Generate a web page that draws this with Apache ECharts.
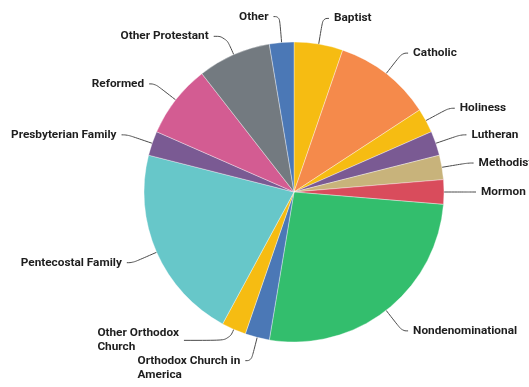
<!DOCTYPE html>
<html>
<head>
<meta charset="utf-8">
<script src="https://cdn.jsdelivr.net/npm/echarts@6/dist/echarts.min.js"></script>
<style>
  html, body { margin: 0; padding: 0; background: #fff; }
  #chart { width: 529px; height: 387px; }
</style>
</head>
<body>
<div id="chart"></div>
<script>
// Denominations, in clockwise order from 12 o'clock
const categories = [
  'Baptist', 'Catholic', 'Holiness', 'Lutheran', 'Methodist', 'Mormon',
  'Nondenominational', 'Orthodox Church in America', 'Other Orthodox Church',
  'Pentecostal Family', 'Presbyterian Family', 'Reformed', 'Other Protestant', 'Other'
];
const counts = [2, 4, 1, 1, 1, 1, 10, 1, 1, 8, 1, 3, 3, 1];

const sliceColors = {
  'Baptist': '#F6BC12',
  'Catholic': '#F58A4B',
  'Holiness': '#F6BC12',
  'Lutheran': '#7A5A93',
  'Methodist': '#C8B37B',
  'Mormon': '#D94C5C',
  'Nondenominational': '#33BE6D',
  'Orthodox Church in America': '#4B78B6',
  'Other Orthodox Church': '#F6BC12',
  'Pentecostal Family': '#67C7C9',
  'Presbyterian Family': '#7A5A93',
  'Reformed': '#D35C92',
  'Other Protestant': '#737A80',
  'Other': '#4B78B6'
};

// Wrapped label text for the two long names
const labelText = {
  'Other Orthodox Church': 'Other Orthodox\nChurch',
  'Orthodox Church in America': 'Orthodox Church in\nAmerica'
};

// Per-slice connector tweaks
const lineTweaks = {
  'Other Protestant': { length: 20, length2: 12 },
  'Other Orthodox Church': { length: 12, length2: 45 },
  'Orthodox Church in America': { length: 24, length2: 6 }
};
const labelTweaks = {
  'Orthodox Church in America': { padding: [14, 0, 0, 0] }
};

const data = categories.map((name, i) => {
  const item = { name, value: counts[i], itemStyle: { color: sliceColors[name] } };
  if (lineTweaks[name]) item.labelLine = lineTweaks[name];
  if (labelTweaks[name]) item.label = labelTweaks[name];
  return item;
});

const chart = echarts.init(document.getElementById('chart'), null, { renderer: 'canvas' });
chart.setOption({
  animation: false,
  series: [{
    type: 'pie',
    center: [294, 192],
    radius: 150,
    startAngle: 90,
    clockwise: true,
    avoidLabelOverlap: false,
    data,
    itemStyle: { borderColor: 'rgba(255,255,255,0.6)', borderWidth: 0.6 },
    label: {
      show: true,
      position: 'outside',
      formatter: p => '{t|' + (labelText[p.name] || p.name).split('\n').join('}\n{t|') + '}',
      rich: {
        t: {
          align: 'left',
          fontFamily: 'Roboto',
          fontWeight: 'bold',
          fontSize: 11.8,
          lineHeight: 14,
          color: '#1e1e1e'
        }
      }
    },
    labelLine: {
      show: true,
      length: 26,
      length2: 6,
      smooth: 0.45,
      lineStyle: { color: '#4a4a4a', width: 1 }
    }
  }]
});
</script>
</body>
</html>
